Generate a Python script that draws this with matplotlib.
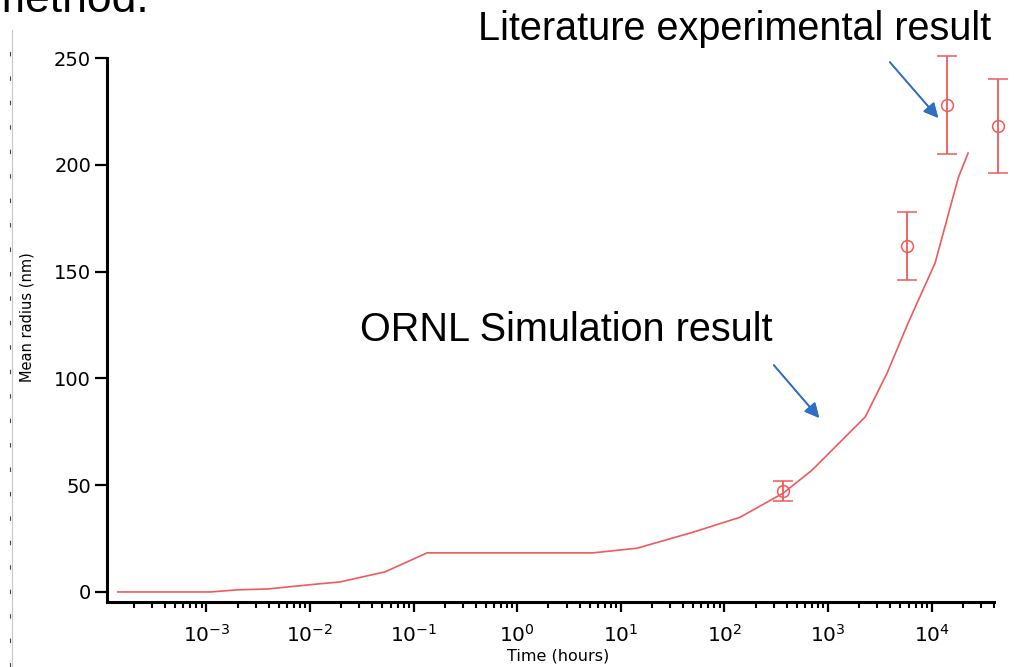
#!/usr/bin/env python3

import matplotlib
matplotlib.use("Agg")
import matplotlib.pyplot as plt
from matplotlib.lines import Line2D
from matplotlib.ticker import LogLocator, NullFormatter

# =====================================================
# DATA
# =====================================================

# ORNL simulation curve
sim_time_h = [1.4e-4, 1.1e-3, 2.0e-3, 3.9e-3, 1.17e-2, 1.96e-2, 2.86e-2,
              5.3e-2, 0.135, 5.4, 14.4, 50, 142, 370, 700, 2290, 3720,
              5940, 10800, 18100, 22500]
sim_radius_nm = [0.0, 0.0, 1.0, 1.4, 3.7, 4.7, 6.5, 9.4, 18.3, 18.3, 20.5,
                 28.0, 35.0, 46.3, 57.0, 82.0, 102.5, 126.0, 154.0, 194.0,
                 205.5]

# Literature experimental points
exp_time_h = [370, 5810, 14150, 43950]
exp_radius_nm = [47.3, 162.0, 228.0, 218.0]
exp_err_nm = [4.7, 16.0, 23.0, 22.0]

y_ticks = [0, 50, 100, 150, 200, 250]

# =====================================================
# STYLE
# =====================================================

RED = "#ef5a5a"
BLUE = "#2f6ec4"
W, H = 1027, 667

plt.rcParams["font.family"] = ["DejaVu Sans"]
plt.rcParams["mathtext.default"] = "regular"

fig = plt.figure(figsize=(W / 100, H / 100), dpi=100)
ax = fig.add_axes([107 / W, 1 - 602 / H, (994 - 107) / W, (602 - 58) / H])

# curve
ax.plot(sim_time_h, sim_radius_nm, color=RED, lw=1.2)

# experimental points with error bars
ax.errorbar(exp_time_h, exp_radius_nm, yerr=exp_err_nm, fmt="o",
            mfc="none", mec=RED, ms=8.5, mew=1.1, ecolor=RED,
            elinewidth=1.3, capsize=7, capthick=1.3, clip_on=False)

ax.set_xscale("log")
ax.set_xlim(1.1e-4, 4e4)
ax.set_ylim(-4.7, 250)
ax.set_yticks(y_ticks)

ax.xaxis.set_minor_locator(LogLocator(base=10, subs=range(2, 10), numticks=100))
ax.xaxis.set_minor_formatter(NullFormatter())
ax.set_xticks([1e-3, 1e-2, 1e-1, 1e0, 1e1, 1e2, 1e3, 1e4])
ax.set_xticklabels([r"$10^{%d}$" % e for e in range(-3, 5)])

for side in ["top", "right"]:
    ax.spines[side].set_visible(False)
for side in ["left", "bottom"]:
    ax.spines[side].set_linewidth(2.2)

ax.tick_params(axis="y", direction="out", length=8.5, width=1.6,
               labelsize=14, pad=3)
ax.tick_params(axis="x", which="major", direction="out", length=7,
               width=1.6, labelsize=14.5, pad=9)
ax.tick_params(axis="x", which="minor", direction="out", length=4.2,
               width=1.5)

# axis labels, placed like in the original
fig.text(27 / W, 1 - 317 / H, "Mean radius (nm)", rotation=90,
         ha="center", va="center", fontsize=10.5)
fig.text(558 / W, 1 - 656 / H, "Time (hours)", ha="center", va="center",
         fontsize=11.5)

# =====================================================
# SLIDE ANNOTATIONS
# =====================================================

fig.text(-12 / W, 1 - 12 / H, "method.", fontsize=32,
         family="Liberation Sans", va="baseline", ha="left")

fig.text(478 / W, 1 - 40 / H, "Literature experimental result",
         fontsize=28.5, family="Liberation Sans", va="baseline")
fig.text(360 / W, 1 - 341 / H, "ORNL Simulation result",
         fontsize=28.5, family="Liberation Sans", va="baseline")

arrow_kw = dict(arrowstyle="-|>", color=BLUE, lw=1.2, mutation_scale=22)
fig.add_artist(plt.annotate("", xy=(940 / W, 1 - 120 / H),
                            xytext=(888 / W, 1 - 60 / H),
                            xycoords="figure fraction",
                            textcoords="figure fraction",
                            arrowprops=arrow_kw))
fig.add_artist(plt.annotate("", xy=(821 / W, 1 - 420 / H),
                            xytext=(772 / W, 1 - 363 / H),
                            xycoords="figure fraction",
                            textcoords="figure fraction",
                            arrowprops=arrow_kw))

# faint slide edge on the left
fig.add_artist(Line2D([12 / W, 12 / W], [0, 1 - 30 / H], color="#c8c8c8",
                      lw=0.8))
fig.add_artist(Line2D([10 / W, 10 / W], [0, 1 - 35 / H], color="#444444",
                      lw=0.8, ls=(0, (4, 18))))

fig.savefig("out.png", dpi=100)
